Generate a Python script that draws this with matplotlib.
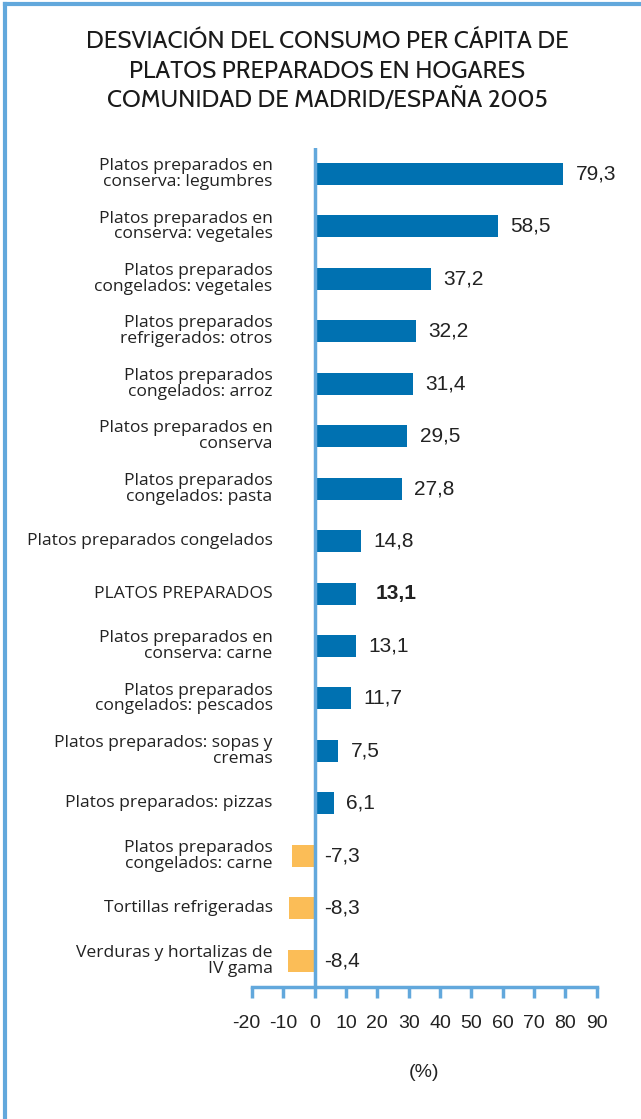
import matplotlib
matplotlib.use("Agg")
import matplotlib.pyplot as plt
from matplotlib.lines import Line2D
from matplotlib.transforms import ScaledTranslation

categories = [
    "Platos preparados en\nconserva: legumbres",
    "Platos preparados en\nconserva: vegetales",
    "Platos preparados\ncongelados: vegetales",
    "Platos preparados\nrefrigerados: otros",
    "Platos preparados\ncongelados: arroz",
    "Platos preparados en\nconserva",
    "Platos preparados\ncongelados: pasta",
    "Platos preparados congelados",
    "PLATOS PREPARADOS",
    "Platos preparados en\nconserva: carne",
    "Platos preparados\ncongelados: pescados",
    "Platos preparados: sopas y\ncremas",
    "Platos preparados: pizzas",
    "Platos preparados\ncongelados: carne",
    "Tortillas refrigeradas",
    "Verduras y hortalizas de\nIV gama",
]
values = [79.3, 58.5, 37.2, 32.2, 31.4, 29.5, 27.8, 14.8, 13.1, 13.1, 11.7, 7.5, 6.1, -7.3, -8.3, -8.4]
value_labels = ["79,3", "58,5", "37,2", "32,2", "31,4", "29,5", "27,8", "14,8", "13,1",
                "13,1", "11,7", "7,5", "6,1", "-7,3", "-8,3", "-8,4"]
ticks = [-20, -10, 0, 10, 20, 30, 40, 50, 60, 70, 80, 90]
title = "DESVIACIÓN DEL CONSUMO PER CÁPITA DE\nPLATOS PREPARADOS EN HOGARES\nCOMUNIDAD DE MADRID/ESPAÑA 2005"

blue = "#0071b1"
orange = "#fbbd57"
line_blue = "#62a8dc"
cond = "Cabin"
lab_font = "Open Sans"
arial = "Liberation Sans"

fig = plt.figure(figsize=(6.41, 11.19), dpi=100)
ax = fig.add_axes([0.393, 0.118, 0.538, 0.750])

ypos = list(range(len(values)))
colors = [blue if v > 0 else orange for v in values]
ax.barh(ypos, values, height=0.42, color=colors, zorder=2)
ax.axvline(0, color=line_blue, lw=2.5, zorder=3)

for y, v, lab, cat in zip(ypos, values, value_labels, categories):
    bold = cat == "PLATOS PREPARADOS"
    if v > 0:
        ax.annotate(lab, (v, y), xytext=(9 if not bold else 14, 0), textcoords="offset points",
                    ha="left", va="center", fontsize=15, family=arial,
                    fontweight="bold" if bold else "normal", color="#222222")
    else:
        ax.annotate(lab, (0, y), xytext=(7, 0), textcoords="offset points",
                    ha="left", va="center", fontsize=15, family=arial, color="#222222")
    ax.text(-13.4, y, cat, ha="right", va="center", fontsize=12.6, family=lab_font,
            color="#222222", linespacing=0.98)

ax.set_xlim(-20, 90)
ax.set_ylim(15.5, -0.5)
ax.set_yticks([])
ax.set_xticks(ticks)
ax.set_xticklabels([str(t) for t in ticks], family=arial, fontsize=14, color="#222222")
ax.tick_params(axis="x", direction="out", length=8, width=2.5, color=line_blue, pad=12)
# first tick label sits a little left of its tick in the original
first = ax.get_xticklabels()[0]
first.set_transform(first.get_transform() + ScaledTranslation(-6 / 100, 0, fig.dpi_scale_trans))
for s in ["top", "right", "left"]:
    ax.spines[s].set_visible(False)
ax.spines["bottom"].set_color(line_blue)
ax.spines["bottom"].set_linewidth(2.5)
ax.set_xlabel("(%)", family=arial, fontsize=14, color="#222222", labelpad=23)

fig.text(0.51, 0.973, title, ha="center", va="top", fontsize=17.5, family=cond,
         color="#1a1a1a", linespacing=1.3)

# frame lines on the left and top
fig.add_artist(Line2D([0.008, 0.008], [0, 0.996], color=line_blue, lw=3, transform=fig.transFigure))
fig.add_artist(Line2D([0.008, 1.0], [0.996, 0.996], color=line_blue, lw=3, transform=fig.transFigure))

fig.savefig("out.png", dpi=100)
